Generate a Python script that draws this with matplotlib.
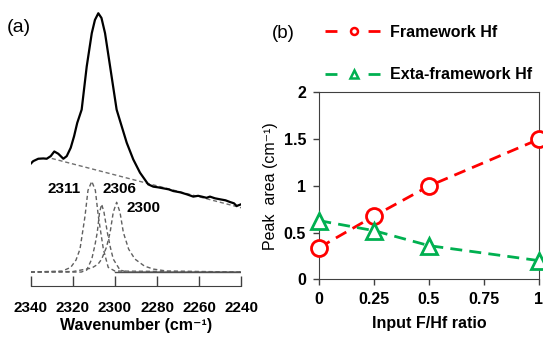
import numpy as np
import matplotlib.pyplot as plt
from matplotlib.lines import Line2D

plt.rcParams['font.family'] = ['Liberation Sans', 'DejaVu Sans']

# ---- panel (a): IR spectrum and fitted components ----
wn_spec = [2340.0, 2338.8, 2336.4, 2334.0, 2332.4, 2330.5, 2328.8, 2326.9, 2324.5,
           2322.9, 2321.0, 2319.4, 2317.9, 2315.8, 2313.4, 2311.0, 2309.5, 2307.9,
           2306.4, 2304.7, 2302.3, 2299.2, 2296.8, 2294.4, 2291.3, 2288.1, 2284.2,
           2281.8, 2279.5, 2277.0, 2274.5, 2272.3, 2269.0, 2265.9, 2262.8, 2260.5,
           2258.8, 2256.5, 2254.9, 2252.5, 2250.1, 2247.5, 2245.4, 2243.5, 2242.2, 2240.1]
ab_spec = [1.087, 1.113, 1.137, 1.14, 1.137, 1.163, 1.21, 1.187, 1.137,
           1.163, 1.247, 1.363, 1.497, 1.63, 2.063, 2.397, 2.53, 2.597,
           2.55, 2.397, 2.063, 1.63, 1.463, 1.297, 1.13, 0.997, 0.88,
           0.857, 0.85, 0.84, 0.83, 0.813, 0.80, 0.78, 0.757, 0.765,
           0.757, 0.745, 0.757, 0.74, 0.73, 0.72, 0.703, 0.69, 0.663, 0.68]

wn_base = [2330, 2240]
ab_base = [1.14, 0.645]

wn_c1 = [2340, 2325, 2321, 2318.5, 2316.6, 2315, 2314.2, 2312.8, 2311.0,
         2309.3, 2307.9, 2307.1, 2305.5, 2303.2, 2300, 2240]
ab_c1 = [0, 0.01, 0.047, 0.12, 0.23, 0.45, 0.563, 0.82, 0.91,
         0.82, 0.563, 0.45, 0.23, 0.047, 0.01, 0]

wn_c2 = [2340, 2316, 2313.4, 2311.0, 2309.5, 2308.4, 2307.3, 2306.3, 2305.2,
         2303.6, 2302.2, 2300.8, 2297.6, 2294, 2240]
ab_c2 = [0, 0.0, 0.02, 0.13, 0.27, 0.397, 0.6, 0.68, 0.6,
         0.397, 0.25, 0.13, 0.02, 0, 0]

wn_c3 = [2340, 2320, 2311.0, 2308, 2306.3, 2304, 2302.3, 2300.8, 2299.2,
         2297.6, 2296.0, 2293.5, 2290.5, 2286, 2281.8, 2275.4, 2240]
ab_c3 = [0, 0.005, 0.04, 0.08, 0.13, 0.25, 0.397, 0.6, 0.70,
         0.6, 0.397, 0.23, 0.13, 0.06, 0.03, 0.01, 0]

wn_zero = [2300, 2240]
ab_zero = [0, 0]

peak_labels = ['2311', '2306', '2300']
peak_lab_x = [2324.2, 2298.1, 2286.4]
peak_lab_y = [0.83, 0.83, 0.64]

wn_ticks = [2340, 2320, 2300, 2280, 2260, 2240]

# ---- panel (b): peak areas ----
ratio = [0, 0.25, 0.5, 1]
framework = [0.34, 0.677, 0.998, 1.497]
extra = [0.627, 0.52, 0.36, 0.2]

red = '#FF0000'
green = '#00B050'

fig = plt.figure(figsize=(5.43, 3.42), dpi=100)

ax1 = fig.add_axes([30.7 / 543, 1 - 286 / 342, 210.6 / 543, 286 / 342])
ax1.plot(wn_spec, ab_spec, color='black', lw=1.6, zorder=4)
ax1.plot(wn_base, ab_base, color='#707070', lw=1.0, dashes=(3, 2))
for wx, ay in [(wn_c1, ab_c1), (wn_c2, ab_c2), (wn_c3, ab_c3)]:
    ax1.plot(wx, ay, color='#606060', lw=1.0, dashes=(3, 2))
ax1.plot(wn_zero, ab_zero, color='#505050', lw=1.0)
for lab, x, y in zip(peak_labels, peak_lab_x, peak_lab_y):
    ax1.text(x, y, lab, ha='center', va='center', fontsize=11,
             fontweight='bold')
ax1.set_xlim(2340, 2240)
ax1.set_ylim(-0.14, 2.73)
ax1.set_xticks(wn_ticks)
ax1.set_xticklabels([str(v) for v in wn_ticks], fontweight='bold')
ax1.set_yticks([])
for s in ['left', 'right', 'top']:
    ax1.spines[s].set_visible(False)
ax1.spines['bottom'].set_color('#404040')
ax1.tick_params(axis='x', direction='in', length=7.5, width=1, color='#404040',
                pad=11, labelsize=11)
ax1.set_xlabel('Wavenumber (cm⁻¹)', fontsize=11.5, fontweight='bold', labelpad=2)
fig.text(7 / 543, 1 - 27 / 342, '(a)', fontsize=14, va='center', ha='left')

ax2 = fig.add_axes([319.3 / 543, 1 - 279.3 / 342, 219.4 / 543, 187 / 342])
ax2.plot(ratio, framework, color=red, lw=2, dashes=(4.3, 2.6), marker='o',
         ms=11.5, mew=2, mfc='white', mec=red, clip_on=False, zorder=3)
ax2.plot(ratio, extra, color=green, lw=2, dashes=(4.3, 2.6), marker='^',
         ms=12, mew=2, mfc='white', mec=green, clip_on=False, zorder=3)
ax2.set_xlim(0, 1)
ax2.set_ylim(0, 2)
ax2.set_xticks([0, 0.25, 0.5, 0.75, 1])
ax2.set_xticklabels(['0', '0.25', '0.5', '0.75', '1'], fontweight='bold')
ax2.set_yticks([0, 0.5, 1, 1.5, 2])
ax2.set_yticklabels(['0', '0.5', '1', '1.5', '2'], fontweight='bold')
for s in ax2.spines.values():
    s.set_color('#404040')
ax2.tick_params(direction='out', length=4.5, width=1, color='#404040',
                labelsize=11.5, pad=5)
ax2.set_xlabel('Input F/Hf ratio', fontsize=11.5, fontweight='bold', labelpad=6)
ax2.set_ylabel('Peak  area (cm⁻¹)', fontsize=11.5, labelpad=4)
fig.text(272 / 543, 1 - 33 / 342, '(b)', fontsize=13.5, va='center', ha='left')

# legend handles: dash - marker - dash
h1 = Line2D([], [], color=red, lw=2, dashes=(4.3, 11.2), marker='o', ms=5,
            mew=1.8, mfc='white', mec=red)
h2 = Line2D([], [], color=green, lw=2, dashes=(4.3, 11.2), marker='^', ms=5.5,
            mew=1.8, mfc='white', mec=green)
leg = fig.legend([h1, h2], ['Framework Hf', 'Exta-framework Hf'],
                 loc='upper left', bbox_to_anchor=(325 / 543, 1 - 25 / 342),
                 frameon=False, borderpad=0, borderaxespad=0, handlelength=3.6,
                 handletextpad=0.45, labelspacing=1.7,
                 prop={'size': 11.5, 'weight': 'bold'})

fig.savefig('out.png', dpi=100)
